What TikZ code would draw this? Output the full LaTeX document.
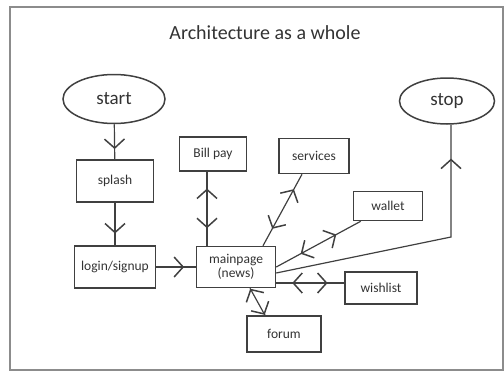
\documentclass[tikz,border=0pt]{standalone}
\usepackage{fontspec}
\setmainfont{Carlito}
\usetikzlibrary{shapes.geometric,decorations.markings}

\begin{document}
\begin{tikzpicture}[x=1pt, y=-1pt,
  box/.style={rectangle, draw=black!75, line width=1.5pt, text=black!80, font=\fontsize{13.5}{14}\selectfont, align=center, inner sep=1pt},
  term/.style={ellipse, draw=black!75, line width=1.5pt, text=black!80, font=\fontsize{19}{20}\selectfont},
  link/.style={draw=black!75, line width=1.2pt},
  fwd/.style={postaction={decorate, decoration={markings, mark=at position #1 with {\draw[line width=1.5pt, line join=miter] (-9pt,10pt) -- (0pt,0pt) -- (-9pt,-10pt);}}}},
  bwd/.style={postaction={decorate, decoration={markings, mark=at position #1 with {\draw[line width=1.5pt, line join=miter] (9pt,10pt) -- (0pt,0pt) -- (9pt,-10pt);}}}}
]
  \useasboundingbox (0,0) rectangle (504,373);
  \draw[black!45, line width=1.2pt] (10,7) rectangle (503,370);

  % title
  \node[text=black!80, font=\fontsize{20}{22}\selectfont] (title) at (265,33) {Architecture as a whole};

  % start / stop
  \node[term, minimum width=102, minimum height=49] (start) at (114,99) {start};
  \node[term, minimum width=95, minimum height=46] (stop) at (447,101) {stop};

  % left column
  \node[box, minimum width=77, minimum height=42] (splash) at (115,181) {splash};
  \node[box, minimum width=81, minimum height=42] (login) at (115,267) {login/signup};

  % main page and its pages
  \node[box, minimum width=79, minimum height=41] (main) at (236,267) {mainpage\\(news)};
  \node[box, minimum width=67, minimum height=34] (billpay) at (213,154) {Bill pay};
  \node[box, minimum width=70, minimum height=35] (services) at (314,156) {services};
  \node[box, minimum width=69, minimum height=29] (wallet) at (388,206) {wallet};
  \node[box, minimum width=72, minimum height=32] (wishlist) at (381,288) {wishlist};
  \node[box, minimum width=74, minimum height=36] (forum) at (284,334) {forum};
  \coordinate (bend) at (451,237);

  % flow
  \draw[link, fwd=0.68] (start) -- (splash);
  \draw[link, fwd=0.7] (splash) -- (login);
  \draw[link, fwd=0.68] (login) -- (main);

  % links from the main page
  \draw[link, bwd=0.25, fwd=0.76] ([xshift=-6]billpay.south |- main.north) -- ([xshift=-6]billpay.south);
  \draw[link, bwd=0.25, fwd=0.78] ([xshift=27]main.north) -- ([xshift=-12]services.south);
  \draw[link, bwd=0.3, fwd=0.7] (main.east) -- ([xshift=8]wallet.south west);
  \draw[link, bwd=0.25, fwd=0.74] ([yshift=-16]main.east) -- ([yshift=-16]main.east -| wishlist.west);
  \draw[link, bwd=0.05, fwd=0.95] ([xshift=14]main.south) -- ([xshift=-19]forum.north);
  \draw[link, fwd=0.88] ([yshift=-6]main.east) -- (bend) -- (bend |- stop.south);
\end{tikzpicture}
\end{document}
